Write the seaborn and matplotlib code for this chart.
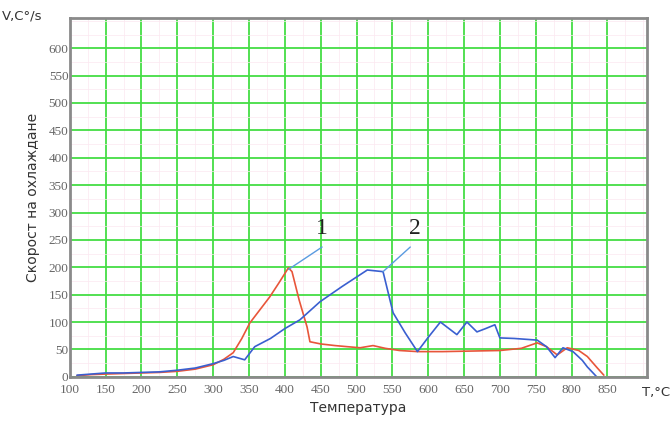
import numpy as np
import pandas as pd
import matplotlib.pyplot as plt
import seaborn as sns

sns.set_style('white')

# curve 1 (red)
temp_1 = [110, 130, 150, 175, 200, 225, 250, 275, 300, 315, 328, 340, 351, 365, 379, 392, 405, 410,
          420, 431, 435, 450, 470, 487, 505, 523, 540, 560, 585, 620, 660, 700, 730, 752, 765, 780,
          794, 810, 822, 836, 845]
rate_1 = [2, 4, 5, 6, 7, 8, 10, 14, 22, 32, 44, 70, 98, 122, 146, 172, 199, 192,
          140, 91, 64, 60, 57, 55, 53, 57, 52, 48, 46, 46, 47, 48, 52, 62, 55, 40,
          53, 48, 37, 16, 3]

# curve 2 (blue)
temp_2 = [110, 130, 150, 175, 200, 225, 250, 275, 300, 315, 328, 344, 358, 380, 400, 421, 449, 480,
          515, 537, 551, 568, 585, 600, 617, 640, 654, 668, 680, 693, 700, 720, 752, 765, 777, 788,
          802, 815, 822, 830, 835]
rate_2 = [3, 5, 7, 7, 8, 9, 12, 16, 24, 30, 37, 31, 55, 70, 88, 104, 137, 165,
          195, 192, 117, 80, 46, 72, 100, 77, 100, 82, 88, 95, 71, 70, 67, 55, 35, 53,
          46, 30, 18, 7, 0]

x_ticks = list(range(100, 851, 50))
y_ticks = list(range(0, 601, 50))

# label, text position, leader end
labels = ['1', '2']
label_pos = [(452, 252), (582, 252)]
leader_start = [(452, 237), (575, 237)]
leader_end = [(405, 196), (537, 192)]

fig = plt.figure(figsize=(6.71, 4.21), dpi=100)
ax = fig.add_axes([0.104, 0.105, 0.86, 0.852])

ax.set_xticks(np.arange(100, 901, 25), minor=True)
ax.set_yticks(np.arange(0, 651, 25), minor=True)
ax.grid(True, which='minor', color='#fbe8f0', linewidth=0.5)
ax.grid(True, which='major', color='#44dd44', linewidth=1.3)
ax.set_axisbelow(True)

sns.lineplot(x=temp_1, y=rate_1, color='#e8553a', linewidth=1.2, estimator=None, ax=ax)
sns.lineplot(x=temp_2, y=rate_2, color='#3a5fd0', linewidth=1.2, estimator=None, ax=ax)

for lab, pos, s, e in zip(labels, label_pos, leader_start, leader_end):
    ax.plot([s[0], e[0]], [s[1], e[1]], color='#5a9be0', linewidth=1.0)
    ax.text(pos[0], pos[1], lab, fontsize=17, family='Liberation Serif', color='#222222',
            ha='center', va='bottom')

ax.set_xlim(100, 905)
ax.set_ylim(0, 655)
ax.set_xticks(x_ticks)
ax.set_yticks(y_ticks)
ax.set_xticklabels([str(t) for t in x_ticks])
ax.set_yticklabels([str(t) for t in y_ticks])
ax.tick_params(axis='both', which='both', length=0, labelsize=9.5, colors='#666666')
ax.tick_params(axis='x', pad=5)
ax.tick_params(axis='y', pad=1)
for lab in ax.get_xticklabels() + ax.get_yticklabels():
    lab.set_family('Liberation Serif')

for sp in ax.spines.values():
    sp.set_color('#8a8a8a')
    sp.set_linewidth(2)

ax.set_xlabel('Температура', fontsize=10, color='#333333', labelpad=4)
ax.set_ylabel('Скорост на охлаждане', fontsize=10, color='#333333', labelpad=6)
fig.text(0.003, 0.963, 'V,C°/s', fontsize=9.5, color='#333333', va='center')
fig.text(0.999, 0.068, 'T,°C', fontsize=9.5, color='#333333', va='center', ha='right')

fig.savefig('out.png', dpi=100)
